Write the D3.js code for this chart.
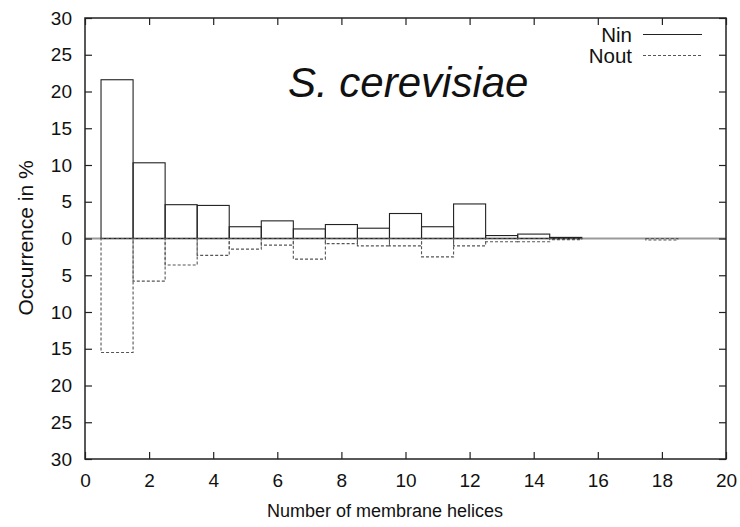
<!DOCTYPE html>
<html>
<head>
<meta charset="utf-8">
<script src="https://cdn.jsdelivr.net/npm/d3@7"></script>
<style>
  html, body { margin: 0; padding: 0; background: #fff; }
  svg { display: block; font-family: "Liberation Sans", Arial, Helvetica, sans-serif; }
</style>
</head>
<body>
<svg id="chart" width="740" height="527"></svg>
<script>
// Number of transmembrane helices per protein
const helices = [1, 2, 3, 4, 5, 6, 7, 8, 9, 10, 11, 12, 13, 14, 15, 16, 17, 18, 19, 20];
// Share of proteins (%) with the N-terminus inside
const ninValues = [21.6, 10.3, 4.6, 4.5, 1.6, 2.4, 1.3, 1.9, 1.4, 3.4, 1.6, 4.7, 0.4, 0.6, 0.15, 0, 0, 0, 0, 0];
// Share of proteins (%) with the N-terminus outside (drawn downward)
const noutValues = [15.5, 5.8, 3.6, 2.3, 1.45, 0.9, 2.8, 0.7, 1.0, 1.0, 2.5, 1.0, 0.45, 0.45, 0.15, 0, 0, 0.2, 0, 0];
// Axis ticks
const xTicks = [0, 2, 4, 6, 8, 10, 12, 14, 16, 18, 20];
const yTicks = [-30, -25, -20, -15, -10, -5, 0, 5, 10, 15, 20, 25, 30];
const seriesNames = ["Nin", "Nout"];

const svg = d3.select("#chart");
const margin = { left: 85, right: 14, top: 18, bottom: 68 };
const W = 740, H = 527;

const x = d3.scaleLinear().domain([0, 20]).range([margin.left, W - margin.right]);
const y = d3.scaleLinear().domain([-30, 30]).range([H - margin.bottom, margin.top]);

const tickFont = 19;
const tickLen = 7;

// Zero line
svg.append("line")
  .attr("x1", x(0)).attr("x2", x(20))
  .attr("y1", y(0)).attr("y2", y(0))
  .attr("stroke", "#9a9a9a").attr("stroke-width", 2);

// Nin boxes (upward)
svg.append("g").selectAll("rect")
  .data(helices.map((h, i) => ({ h, v: ninValues[i] })).filter(d => d.v > 0))
  .join("rect")
  .attr("x", d => x(d.h - 0.5))
  .attr("width", d => x(d.h + 0.5) - x(d.h - 0.5))
  .attr("y", d => y(d.v))
  .attr("height", d => y(0) - y(d.v))
  .attr("fill", "none")
  .attr("stroke", "#222")
  .attr("stroke-width", 1.1);

// Nout boxes (downward, dashed)
svg.append("g").selectAll("rect")
  .data(helices.map((h, i) => ({ h, v: noutValues[i] })).filter(d => d.v > 0))
  .join("rect")
  .attr("x", d => x(d.h - 0.5))
  .attr("width", d => x(d.h + 0.5) - x(d.h - 0.5))
  .attr("y", y(0))
  .attr("height", d => y(-d.v) - y(0))
  .attr("fill", "none")
  .attr("stroke", "#555")
  .attr("stroke-width", 1.1)
  .attr("stroke-dasharray", "3,2");

// Frame
svg.append("rect")
  .attr("x", x(0)).attr("y", y(30))
  .attr("width", x(20) - x(0)).attr("height", y(-30) - y(30))
  .attr("fill", "none").attr("stroke", "#222").attr("stroke-width", 1.5);

// Axes with inward ticks
const fmtAbs = d => String(Math.abs(d));
const gBottom = svg.append("g").attr("transform", `translate(0,${y(-30)})`)
  .call(d3.axisBottom(x).tickValues(xTicks).tickSizeInner(-tickLen).tickSizeOuter(0).tickPadding(15));
const gTop = svg.append("g").attr("transform", `translate(0,${y(30)})`)
  .call(d3.axisTop(x).tickValues(xTicks).tickSizeInner(-tickLen).tickSizeOuter(0).tickFormat(""));
const gLeft = svg.append("g").attr("transform", `translate(${x(0)},0)`)
  .call(d3.axisLeft(y).tickValues(yTicks).tickSizeInner(-tickLen).tickSizeOuter(0).tickPadding(13).tickFormat(fmtAbs));
const gRight = svg.append("g").attr("transform", `translate(${x(20)},0)`)
  .call(d3.axisRight(y).tickValues(yTicks).tickSizeInner(-tickLen).tickSizeOuter(0).tickFormat(""));

[gBottom, gTop, gLeft, gRight].forEach(g => {
  g.select(".domain").remove();
  g.selectAll(".tick line").attr("stroke", "#222").attr("stroke-width", 1.2);
  g.selectAll(".tick text")
    .attr("fill", "#111")
    .style("font-size", tickFont + "px")
    .style("font-family", "'Liberation Sans', Arial, sans-serif");
});

// Axis titles
svg.append("text")
  .attr("x", 267).attr("y", 517)
  .attr("text-anchor", "start")
  .style("font-size", "18px").attr("fill", "#111")
  .text("Number of membrane helices");

svg.append("text")
  .attr("transform", `translate(33,238) rotate(-90)`)
  .attr("text-anchor", "middle")
  .style("font-size", "21px").attr("fill", "#111")
  .text("Occurrence in %");

// Organism label
svg.append("text")
  .attr("x", 288).attr("y", 97)
  .style("font-size", "42px").style("font-style", "italic").attr("fill", "#111")
  .text("S. cerevisiae");

// Legend
const legend = svg.append("g");
seriesNames.forEach((name, i) => {
  const ly = 34.5 + i * 21;
  legend.append("text")
    .attr("x", 632).attr("y", ly + 7.5)
    .attr("text-anchor", "end")
    .style("font-size", "20.5px").attr("fill", "#111")
    .text(name);
  legend.append("line")
    .attr("x1", 643).attr("x2", 702).attr("y1", ly).attr("y2", ly)
    .attr("stroke", i === 0 ? "#222" : "#555")
    .attr("stroke-width", 1.1)
    .attr("stroke-dasharray", i === 0 ? null : "3,2");
});
</script>
</body>
</html>
